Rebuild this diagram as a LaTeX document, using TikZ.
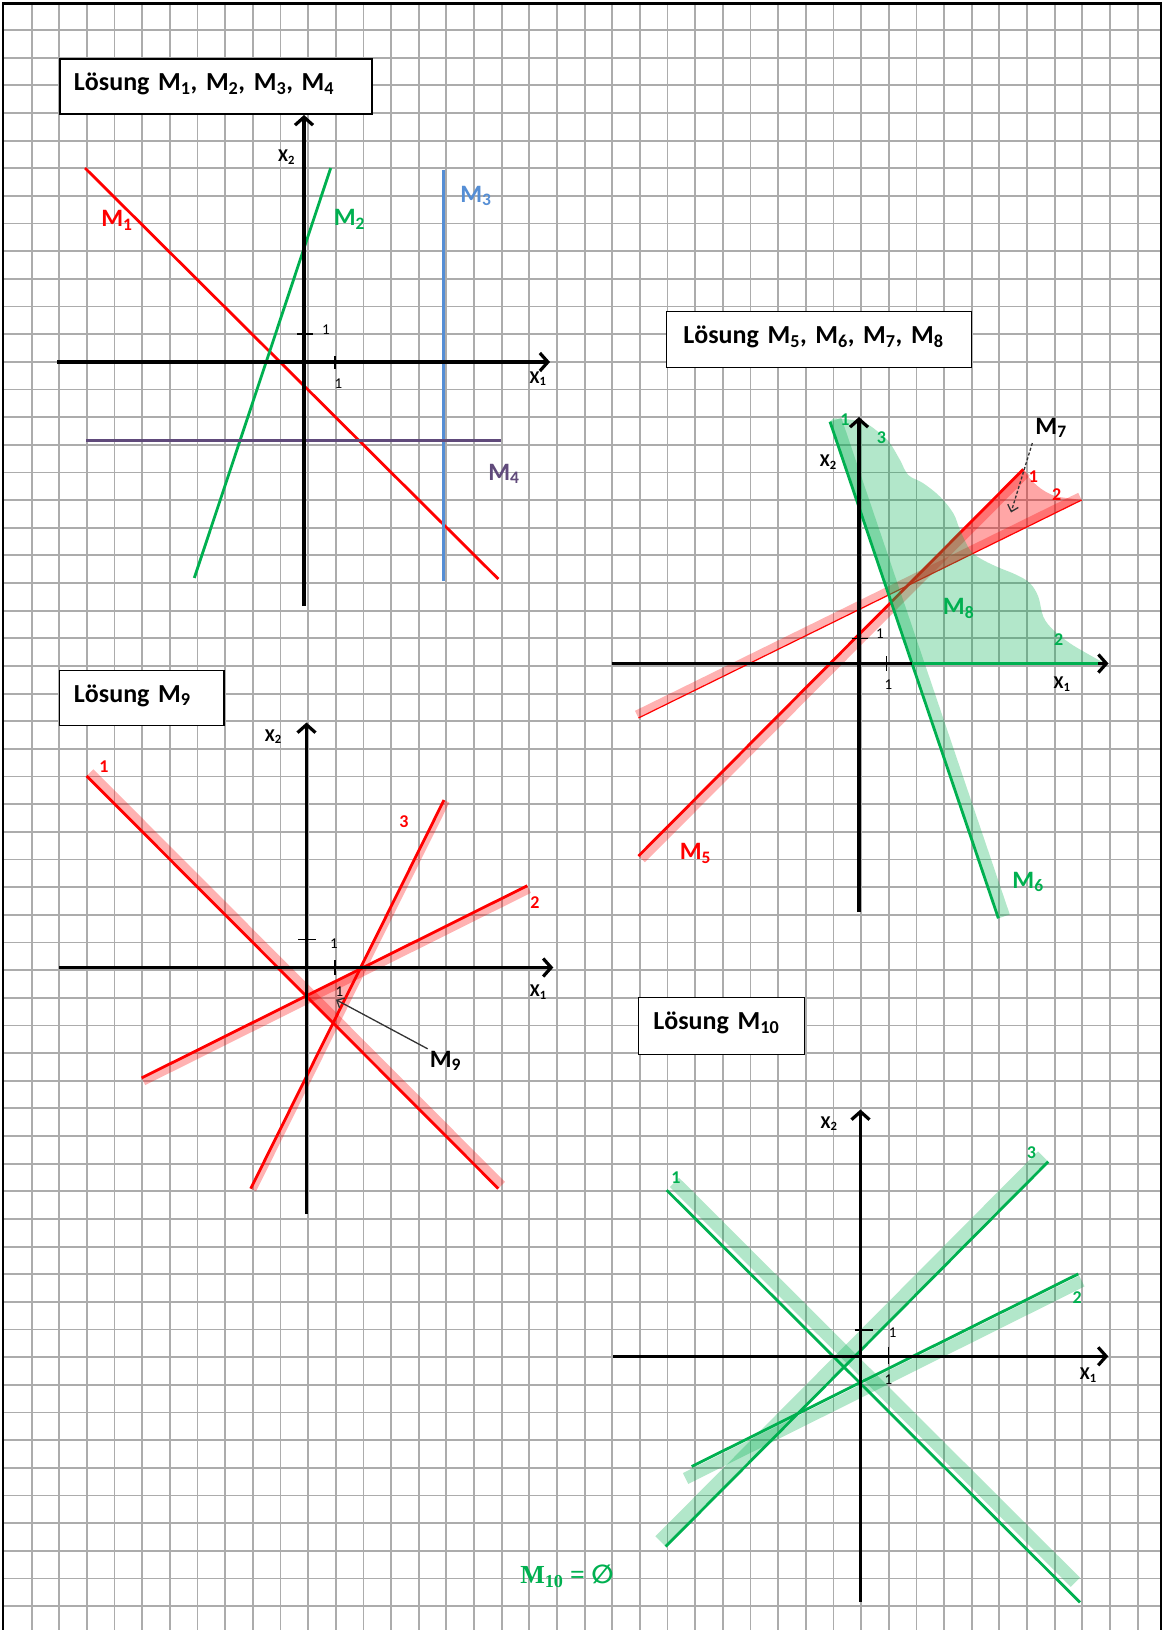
\documentclass[tikz,border=0pt]{standalone}
\usepackage{fontspec}
\setmainfont{Carlito}
\newfontfamily\serifbold{Liberation Serif}
\newfontfamily\symfont{DejaVu Sans}
\usetikzlibrary{arrows.meta, calc}
\definecolor{LineRed}{RGB}{255,0,0}
\definecolor{LineGreen}{RGB}{0,176,80}
\definecolor{LineBlue}{RGB}{85,142,213}
\definecolor{LinePurple}{RGB}{96,74,123}
\definecolor{GridGray}{RGB}{172,172,172}

\tikzset{
  gridline/.style={draw=GridGray, line width=1.8pt},
  axisline/.style={line width=3.2pt, -{Straight Barb[length=8pt, width=18pt]}},
  tickmark/.style={line width=1.5pt},
  ticklabel/.style={font=\fontsize{15}{15}\selectfont, inner sep=0pt},
  axislabel/.style={font=\fontsize{18}{18}\selectfont\bfseries, inner sep=0pt},
  titlebox/.style={draw, line width=1.3pt, fill=white, anchor=north west, align=left,
    minimum height=55pt, inner xsep=14pt, text height=18pt, text depth=10pt,
    font=\fontsize{26}{30}\selectfont\bfseries},
  setlabel/.style={font=\fontsize{25}{25}\selectfont\bfseries, inner sep=2pt},
  numlabel/.style={font=\fontsize{18}{18}\selectfont\bfseries, inner sep=0pt},
  emptylabel/.style={text=LineGreen, font=\serifbold\bfseries\fontsize{26}{26}\selectfont, inner sep=0pt},
  plotline/.style={line width=2.8pt},
  band/.style={line width=#1, opacity=0.3},
  pointer/.style={line width=1.3pt, draw=black!80, -{Straight Barb[length=6pt, width=11pt]}},
}

\begin{document}
\begin{tikzpicture}[x=1pt, y=-1pt]
\useasboundingbox (0,0) rectangle (1166,1630);
\fill[white] (0,0) rectangle (1166,1630);
% squared paper
\foreach \i in {0,...,40}
  \draw[gridline] ({31.6+27.65*\i},4) -- ({31.6+27.65*\i},1630);
\foreach \j in {0,...,57}
  \draw[gridline] (3,{30+27.65*\j}) -- (1161,{30+27.65*\j});
\draw[line width=2.6pt] (3,1630) -- (3,3.5) -- (1161,3.5) -- (1161,1630);

% ---------- Loesung M1 .. M4
\node[titlebox, text width=284pt] (title1) at (59.3,58.3)
  {Lösung M\textsubscript{1}, M\textsubscript{2}, M\textsubscript{3}, M\textsubscript{4}};
\coordinate (m1a) at (85,168);      \coordinate (m1b) at (498.3,579);
\coordinate (m2a) at (194.3,578);   \coordinate (m2b) at (330.7,168);
\coordinate (m3a) at (443.3,169.5); \coordinate (m3b) at (443.3,581);
\coordinate (m4a) at (86,440.7);    \coordinate (m4b) at (501,440.7);
\draw[plotline, LineRed] (m1a) -- (m1b);
\draw[plotline, LineGreen] (m2a) -- (m2b);
\draw[plotline, LineBlue] (m3a) -- (m3b);
\draw[plotline, LinePurple] (m4a) -- (m4b);
\draw[axisline] (57,362) -- (550,362);
\draw[axisline] (304,606) -- (304,115);
\draw[tickmark] (297,334) -- (313,334);
\draw[tickmark] (335,356) -- (335,369);
\node[ticklabel] (tick1y) at (326,330) {1};
\node[ticklabel] (tick1x) at (338.3,383.3) {1};
\node[axislabel] (axis1y) at (286.5,157) {X\textsubscript{2}};
\node[axislabel] (axis1x) at (538,378.5) {X\textsubscript{1}};
\node[setlabel, text=LineRed] (lblM1) at (117,220.5) {M\textsubscript{1}};
\node[setlabel, text=LineGreen] (lblM2) at (349.5,219.7) {M\textsubscript{2}};
\node[setlabel, text=LineBlue] (lblM3) at (476,196) {M\textsubscript{3}};
\node[setlabel, text=LinePurple] (lblM4) at (504,474) {M\textsubscript{4}};

% ---------- Loesung M5 .. M8
\node[titlebox, text width=271.3pt, inner xsep=16.7pt, minimum height=56pt] (title2) at (666,310.7)
  {Lösung M\textsubscript{5}, M\textsubscript{6}, M\textsubscript{7}, M\textsubscript{8}};
\coordinate (m5a) at (638.5,856);   \coordinate (m5b) at (1023.3,469.3);
\coordinate (r2a) at (638.5,718);   \coordinate (r2b) at (1081.7,500);
\coordinate (m7x) at (907.4,585.7);
\fill[LineRed, opacity=0.35] (m7x) -- (m5b)
  .. controls (1030,481) and (1042,492) .. (1056.7,496.7) -- (r2b) -- cycle;
\draw[band=9pt, LineRed] ($(m5a)!4.5pt!-90:(m5b)$) -- ($(m5b)!4.5pt!90:(m5a)$);
\draw[band=8pt, LineRed] ($(r2a)!4pt!90:(r2b)$) -- ($(r2b)!4pt!-90:(r2a)$);
\draw[LineRed, line width=1.2pt] (r2a) -- (r2b);
\draw[plotline, LineRed] (m5a) -- (m5b);
\coordinate (m6a) at (830,421.7);   \coordinate (m6b) at (998.4,918.3);
\coordinate (m6x) at (912,663.5);
\fill[LineGreen, opacity=0.3] (m6a) -- (m6x) -- (1105,663.5) -- plot[smooth, tension=0.6] coordinates {
  (1105,663.5) (1086.7,653.3) (1070,643.3) (1053.3,630) (1043.3,616.7) (1038.3,596.7)
  (1030,583.3) (1016.7,575) (996.7,566.7) (980,558.3) (970,550) (960,530) (953.3,513.3)
  (940,496.7) (923.3,483.3) (908.3,475) (900,460) (890,443.3) (880,433.3) (861.7,421.7)
  (833.3,418.3)} -- cycle;
\draw[band=12pt, LineGreen] ($(m6a)!6pt!90:(m6b)$) -- ($(m6b)!6pt!-90:(m6a)$);
\draw[plotline, LineGreen] (m6a) -- (m6b);
\draw[axisline] (611.7,663.5) -- (1108.5,663.5);
\draw[axisline] (859,912) -- (859,417);
\draw[plotline, LineGreen] (m6x) -- (1098,663.5);
\draw[tickmark] (852,638.3) -- (867.5,638.3);
\draw[tickmark] (886.5,656) -- (886.5,671);
\node[ticklabel] (tick2y) at (880,633.3) {1};
\node[ticklabel] (tick2x) at (888.5,685) {1};
\node[axislabel] (axis2y) at (828.3,462) {X\textsubscript{2}};
\node[axislabel] (axis2x) at (1062,684) {X\textsubscript{1}};
\node[numlabel, text=LineGreen] (g6one) at (845,419.3) {1};
\node[numlabel, text=LineGreen] (g6three) at (881.5,437.5) {3};
\node[numlabel, text=LineGreen] (g6two) at (1058.6,640) {2};
\node[numlabel, text=LineRed] (r7one) at (1033.3,476.7) {1};
\node[numlabel, text=LineRed] (r7two) at (1056.7,494.5) {2};
\node[setlabel, text=LineRed] (lblM5) at (695.5,853.5) {M\textsubscript{5}};
\node[setlabel, text=LineGreen] (lblM6) at (1028,882) {M\textsubscript{6}};
\node[setlabel, text=LineGreen] (lblM8) at (958.5,608.3) {M\textsubscript{8}};
\node[setlabel] (lblM7) at (1051,428) {M\textsubscript{7}};
\coordinate (m7tip) at (1011,512.5);
\draw[pointer, densely dashed, shorten <=3pt] (lblM7.south west) -- (m7tip);

% ---------- Loesung M9
\node[titlebox, text width=135.7pt, inner xsep=14.3pt] (title3) at (59,670) {Lösung M\textsubscript{9}};
\coordinate (n1a) at (86.7,776);    \coordinate (n1b) at (498.3,1188.6);
\coordinate (n2a) at (141.7,1077.9); \coordinate (n2b) at (527.3,885.7);
\coordinate (n3a) at (250.7,1188.6); \coordinate (n3b) at (444,800);
\fill[LineRed, opacity=0.3] (306.1,995.9) -- (359.9,969.1) -- (333.1,1023) -- cycle;
\draw[band=9pt, LineRed] ($(n1a)!5pt!90:(n1b)$) -- ($(n1b)!5pt!-90:(n1a)$);
\draw[band=8pt, LineRed] ($(n2a)!4pt!-90:(n2b)$) -- ($(n2b)!4pt!90:(n2a)$);
\draw[band=6pt, LineRed] ($(n3a)!3pt!-90:(n3b)$) -- ($(n3b)!3pt!90:(n3a)$);
\draw[plotline, LineRed] (n1a) -- (n1b);
\draw[plotline, LineRed] (n2a) -- (n2b);
\draw[plotline, LineRed] (n3a) -- (n3b);
\draw[axisline] (59,967.5) -- (553.3,967.5);
\draw[axisline] (306.5,1214) -- (306.5,722.5);
\draw[tickmark] (298,939.3) -- (316,939.3);
\draw[tickmark] (335,960) -- (335,975);
\node[ticklabel] (tick3y) at (334,943.3) {1};
\node[ticklabel] (tick3x) at (339.3,991.7) {1};
\node[axislabel] (axis3y) at (273.3,736.8) {X\textsubscript{2}};
\node[axislabel] (axis3x) at (538.3,992) {X\textsubscript{1}};
\node[numlabel, text=LineRed] (r9one) at (104,767) {1};
\node[numlabel, text=LineRed] (r9two) at (535,903) {2};
\node[numlabel, text=LineRed] (r9three) at (404,821.4) {3};
\node[setlabel] (lblM9) at (445.5,1061) {M\textsubscript{9}};
\coordinate (m9tip) at (336,999.7);
\draw[pointer] (lblM9.north west) -- (m9tip);

% ---------- Loesung M10
\node[titlebox, text width=136.3pt, inner xsep=15pt, minimum height=56.5pt] (title4) at (637.7,997)
  {Lösung M\textsubscript{10}};
\coordinate (g1a) at (666.7,1190.2); \coordinate (g1b) at (1080,1602.4);
\coordinate (g1c) at ($(g1a)!0.97!(g1b)$);
\coordinate (g2a) at (691.7,1466.5); \coordinate (g2b) at (1078.3,1273.9);
\coordinate (g2c) at ($(g2a)!-0.025!(g2b)$);
\coordinate (g3a) at (665.7,1546.5); \coordinate (g3b) at (1048.3,1161.6);
\draw[band=13pt, LineGreen] ($(g1a)!11pt!90:(g1b)$) -- ($(g1c)!11pt!-90:(g1a)$);
\draw[band=12pt, LineGreen] ($(g2c)!8pt!-90:(g2b)$) -- ($(g2b)!8pt!90:(g2a)$);
\draw[band=13pt, LineGreen] ($(g3a)!8pt!90:(g3b)$) -- ($(g3b)!8pt!-90:(g3a)$);
\draw[plotline, LineGreen] (g1a) -- (g1b);
\draw[plotline, LineGreen] (g2a) -- (g2b);
\draw[plotline, LineGreen] (g3a) -- (g3b);
\draw[axisline] (613.3,1356.3) -- (1108.3,1356.3);
\draw[axisline] (860.5,1602) -- (860.5,1109.5);
\draw[tickmark] (855,1330.2) -- (873.3,1330.2);
\draw[tickmark] (888.3,1347) -- (888.3,1364);
\node[ticklabel] (tick4y) at (892.7,1333) {1};
\node[ticklabel] (tick4x) at (888.3,1380) {1};
\node[axislabel] (axis4y) at (829,1123.5) {X\textsubscript{2}};
\node[axislabel] (axis4x) at (1088.3,1375) {X\textsubscript{1}};
\node[numlabel, text=LineGreen] (g10one) at (676,1177.7) {1};
\node[numlabel, text=LineGreen] (g10two) at (1077.2,1297.3) {2};
\node[numlabel, text=LineGreen] (g10three) at (1031.5,1152.5) {3};
\node[emptylabel] (lblM10) at (567,1576) {M\textsubscript{10} = {\symfont ∅}};
\end{tikzpicture}
\end{document}
